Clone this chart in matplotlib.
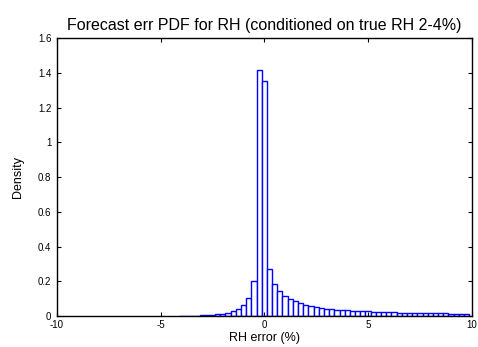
import numpy as np
import matplotlib
matplotlib.use("Agg")
import matplotlib.pyplot as plt

plt.rcParams['font.family'] = ['Liberation Sans', 'DejaVu Sans']

# Histogram of forecast error, bins of 0.25 centred on multiples of 0.25
bin_width = 0.25
bin_first = -4.0
density = [
    0.001, 0.001, 0.002, 0.002, 0.003, 0.004, 0.006, 0.009,
    0.013, 0.019, 0.028, 0.042, 0.065, 0.105, 0.200, 1.415,
    1.355, 0.270, 0.185, 0.145, 0.118, 0.098, 0.084, 0.073, 0.064, 0.057,
    0.051, 0.046, 0.042, 0.039, 0.036, 0.034, 0.032, 0.030, 0.029, 0.028,
    0.026, 0.025, 0.024, 0.023, 0.022, 0.021, 0.020, 0.019, 0.019, 0.018,
    0.017, 0.017, 0.016, 0.016, 0.015, 0.015, 0.014, 0.014, 0.013, 0.013,
]
centers = bin_first + bin_width * np.arange(len(density))

xticks = [-10, -5, 0, 5, 10]
yticks = [0, 0.2, 0.4, 0.6, 0.8, 1, 1.2, 1.4, 1.6]
ytick_labels = ['0', '0.2', '0.4', '0.6', '0.8', '1', '1.2', '1.4', '1.6']

fig = plt.figure(figsize=(4.78, 3.47), dpi=100)
ax = fig.add_axes([0.119, 0.0893, 0.868, 0.8012])

ax.bar(centers, density, width=bin_width, facecolor='white',
       edgecolor='#0000ff', linewidth=1.0, align='center')

ax.set_xlim(-10, 10)
ax.set_ylim(0, 1.6)
ax.set_xticks(xticks)
ax.set_xticklabels([str(t) for t in xticks])
ax.set_yticks(yticks)
ax.set_yticklabels(ytick_labels)
ax.tick_params(direction='in', top=True, right=True, labelsize=7,
               length=3, width=0.8, pad=3)
ax.tick_params(axis='y', pad=4)
for s in ax.spines.values():
    s.set_linewidth(1.0)

ax.set_title('Forecast err PDF for RH (conditioned on true RH 2-4%)',
             fontsize=11.5, pad=6)
ax.set_xlabel('RH error (%)', fontsize=9, labelpad=1)
ax.set_ylabel('Density', fontsize=9, labelpad=10)

fig.savefig('out.png', dpi=100)
